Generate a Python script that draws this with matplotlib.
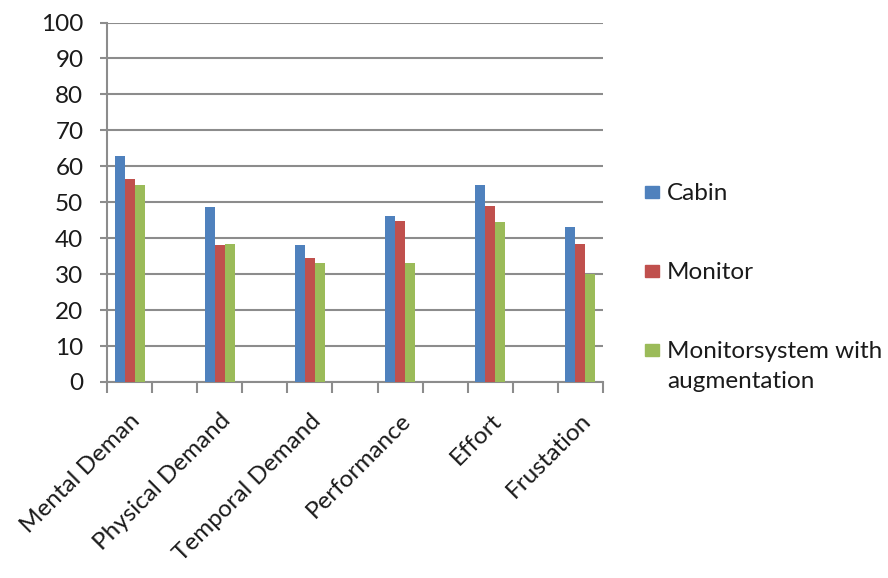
import matplotlib
matplotlib.use("Agg")
import matplotlib.pyplot as plt
import matplotlib.transforms as mtransforms
from matplotlib.patches import Rectangle
import numpy as np

plt.rcParams['font.family'] = ['Lato', 'DejaVu Sans']

categories = ["Mental Deman", "Physical Demand", "Temporal Demand",
              "Performance", "Effort", "Frustation"]
cabin = [63.0, 48.6, 38.0, 46.2, 54.8, 43.1]
monitor = [56.5, 38.0, 34.5, 44.9, 48.9, 38.5]
augmented = [54.8, 38.4, 33.1, 33.2, 44.4, 30.0]
series = ["Cabin", "Monitor", "Monitorsystem with\naugmentation"]
colors = ["#4F81BD", "#C0504D", "#9BBB59"]
yticks = list(range(0, 101, 10))

grid_col = "#8C8C8C"
fs = 17.5

fig = plt.figure(figsize=(8.88, 5.78), dpi=100)
ax = fig.add_axes([107/888, 1 - 382/578, (603-107)/888, (382-22.5)/578])

# every other slot on the category axis is an empty category
x = np.arange(len(categories)) * 2
w = 10 / 45
for i, vals in enumerate([cabin, monitor, augmented]):
    ax.bar(x + (i - 1) * w, vals, width=w, color=colors[i], zorder=3)

ax.set_ylim(0, 100)
ax.set_xlim(-0.5, 2 * len(categories) - 1.5)
ax.set_yticks(yticks)
ax.yaxis.grid(True, color=grid_col, linewidth=1.5, zorder=0)
ax.set_xticks(x)
ax.set_xticklabels(categories, rotation=45, ha='right', rotation_mode='anchor')
shift = mtransforms.ScaledTranslation(-8/100, -4/100, fig.dpi_scale_trans)
for lab in ax.get_xticklabels():
    lab.set_transform(lab.get_transform() + shift)
ax.set_xticks(np.arange(-0.5, 2 * len(categories) - 1, 1), minor=True)
ax.tick_params(axis='x', which='major', length=0, pad=20, labelsize=fs, colors='#1a1a1a')
ax.tick_params(axis='x', which='minor', length=8, width=1.5, color=grid_col)
ax.tick_params(axis='y', length=5, width=1.5, color=grid_col, pad=12,
               labelsize=fs, labelcolor='#1a1a1a')
for s in ['top', 'right']:
    ax.spines[s].set_visible(False)
for s in ['left', 'bottom']:
    ax.spines[s].set_color(grid_col)
    ax.spines[s].set_linewidth(1.5)

# legend drawn by hand to match the spread-out layout
legend_y = [192, 271, 350]
for name, col, yy in zip(series, colors, legend_y):
    fig.add_artist(Rectangle((645/888, 1 - (yy + 6)/578), 14/888, 12/578,
                             color=col, transform=fig.transFigure))
    fig.text(667/888, 1 - (yy - 9)/578, name, fontsize=fs, va='top',
             ha='left', color='#1a1a1a', linespacing=1.5)

fig.savefig("out.png", dpi=100)
